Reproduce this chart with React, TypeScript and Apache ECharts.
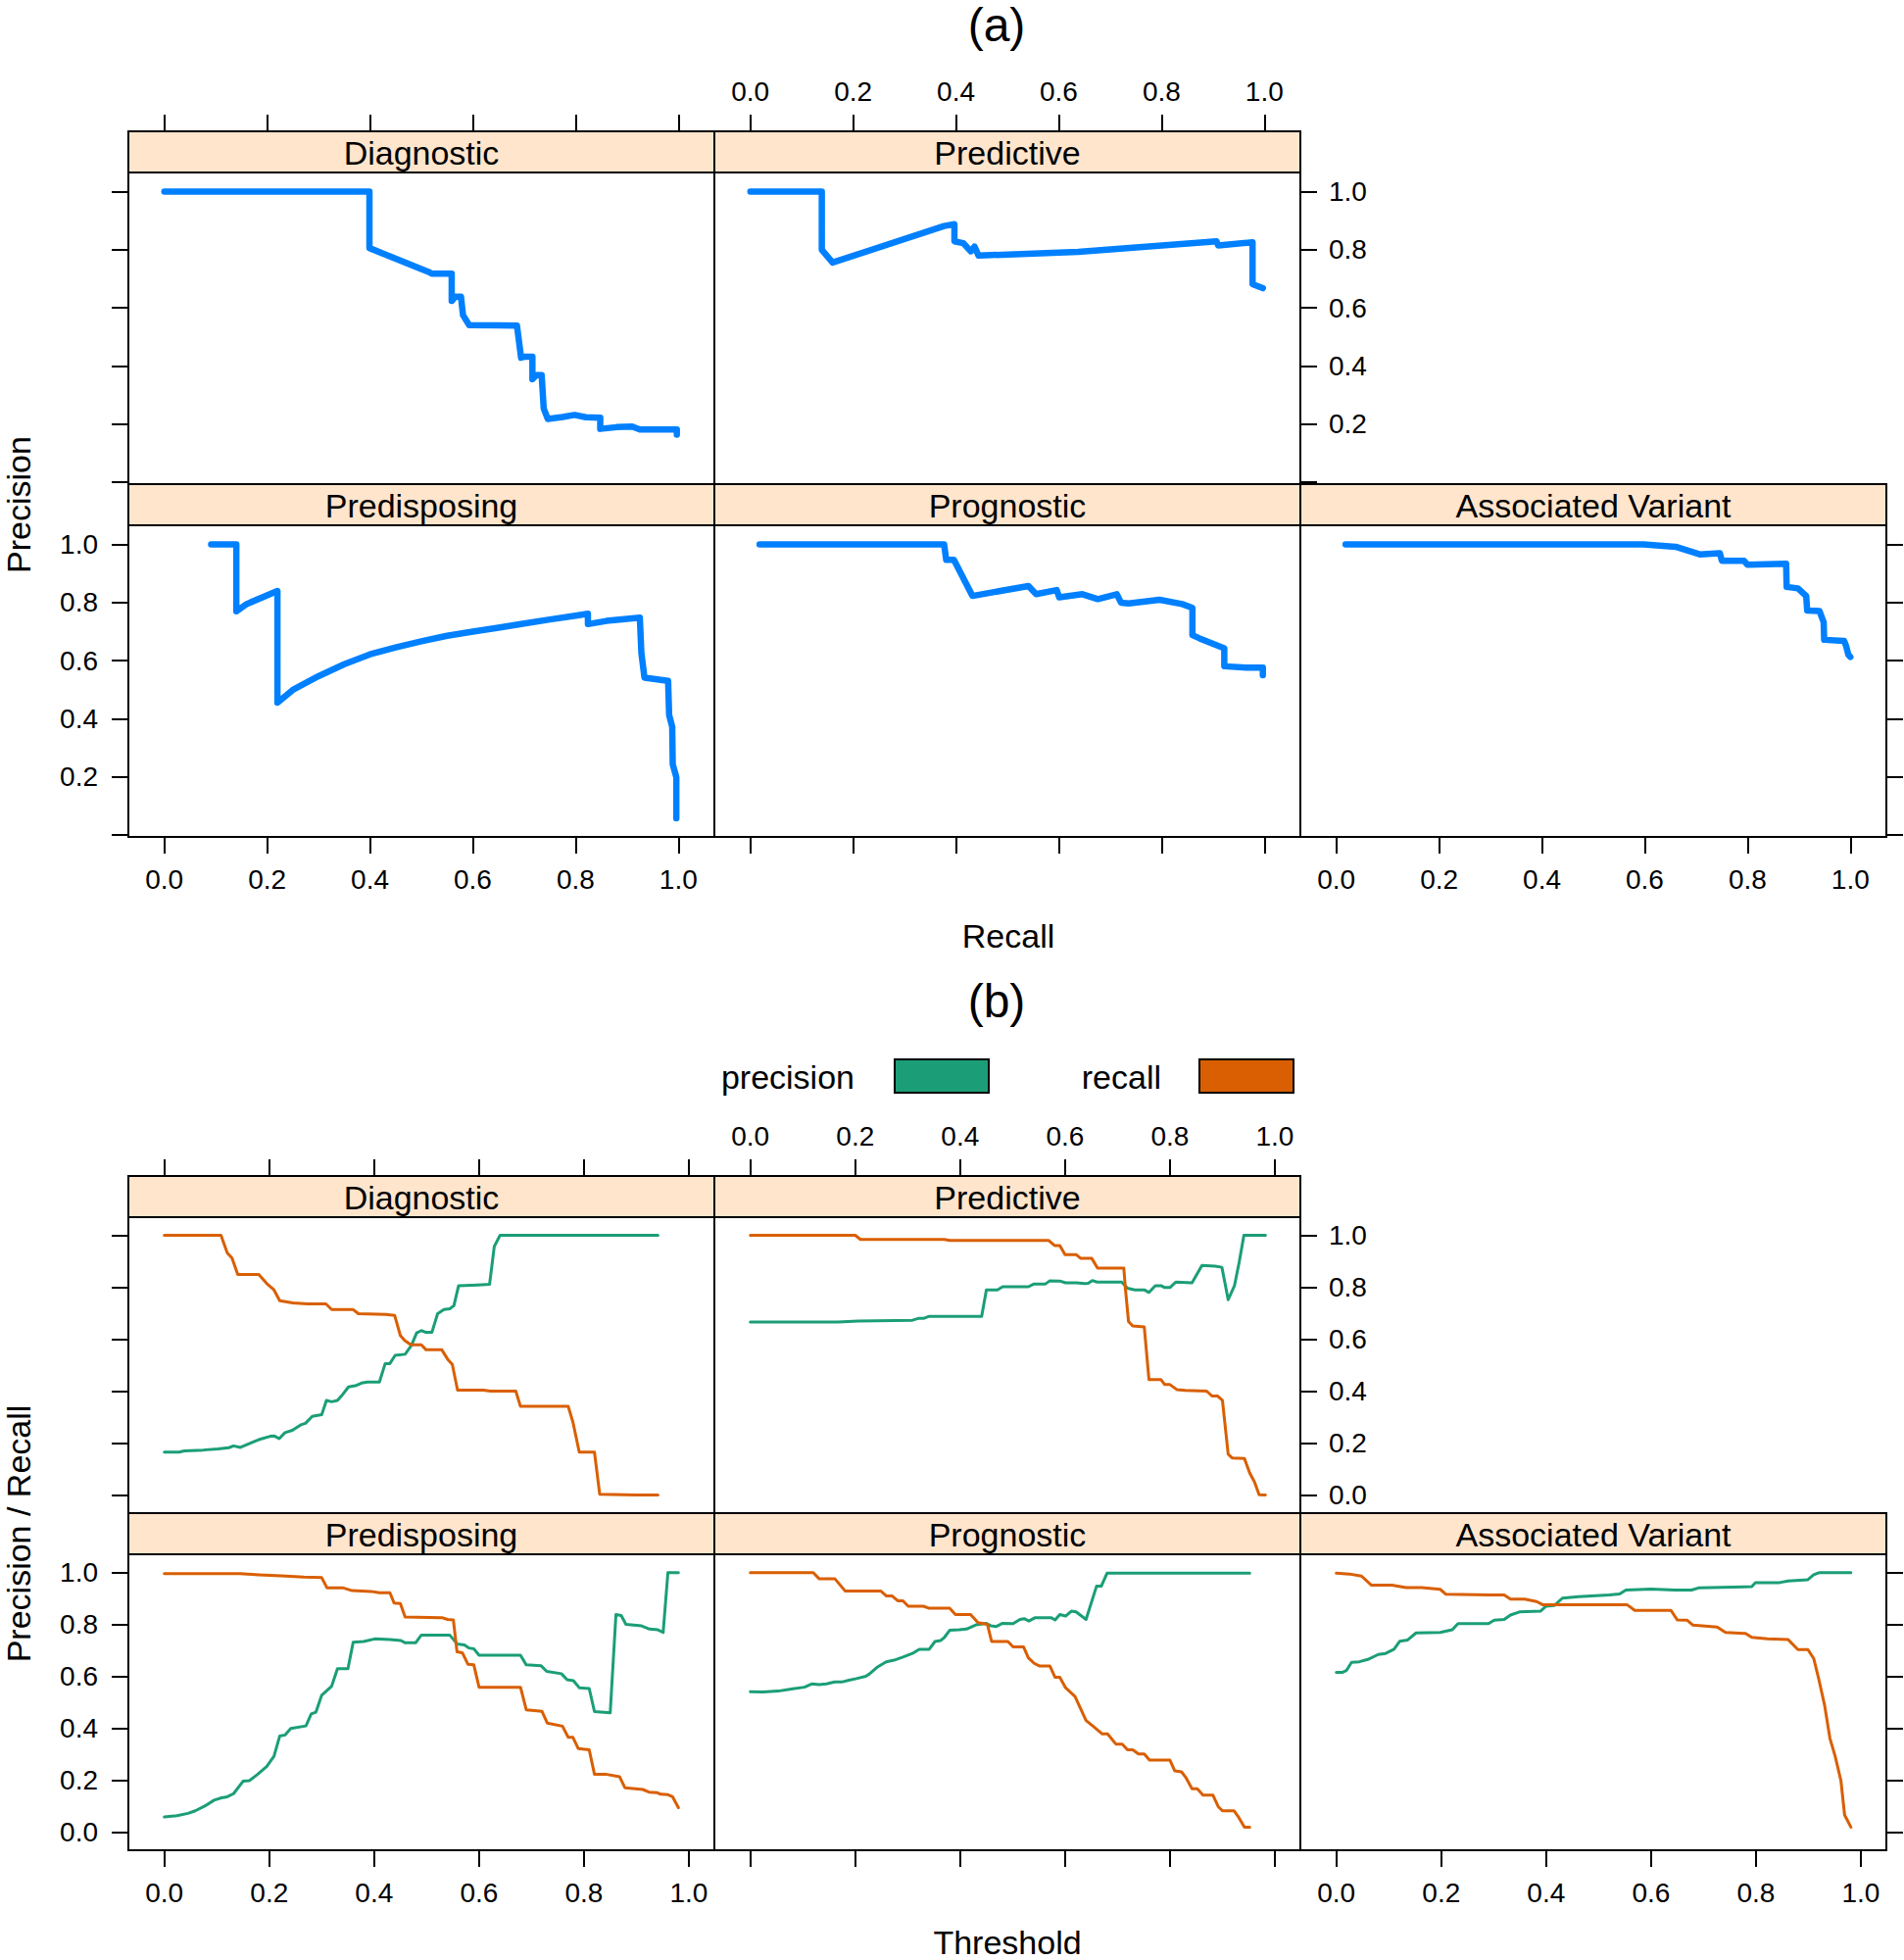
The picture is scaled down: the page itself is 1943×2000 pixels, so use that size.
import React, { useEffect, useRef } from "react";
import * as echarts from "echarts";

// ---------- data ----------
const panelNames = ["Diagnostic", "Predictive", "Predisposing", "Prognostic", "Associated Variant"];
const tickValues = [0, 0.2, 0.4, 0.6, 0.8, 1.0];
const yLabelValuesA = [0.2, 0.4, 0.6, 0.8, 1.0];
const legendNames = ["precision", "recall"];

// (a) precision-recall curves: [recall, precision]
const prDiagnostic = [[0, 1.0], [0.399, 1.0], [0.399, 0.806], [0.514, 0.724], [0.52, 0.718], [0.559, 0.718], [0.559, 0.624], [0.566, 0.639], [0.577, 0.639], [0.581, 0.575], [0.593, 0.541], [0.686, 0.539], [0.694, 0.429], [0.7, 0.432], [0.716, 0.432], [0.716, 0.355], [0.724, 0.369], [0.734, 0.369], [0.738, 0.254], [0.746, 0.218], [0.775, 0.225], [0.798, 0.232], [0.82, 0.224], [0.848, 0.222], [0.848, 0.184], [0.88, 0.19], [0.91, 0.192], [0.925, 0.182], [0.997, 0.182], [0.997, 0.164]];
const prPredictive = [[0, 1.0], [0.139, 1.0], [0.139, 0.8], [0.16, 0.756], [0.377, 0.882], [0.397, 0.888], [0.397, 0.829], [0.414, 0.823], [0.429, 0.795], [0.436, 0.811], [0.444, 0.78], [0.638, 0.793], [0.907, 0.829], [0.91, 0.815], [0.977, 0.826], [0.977, 0.682], [0.997, 0.668]];
const prPredisposing = [[0.091, 1.0], [0.14, 1.0], [0.14, 0.77], [0.16, 0.795], [0.22, 0.84], [0.22, 0.456], [0.25, 0.5], [0.3, 0.547], [0.35, 0.588], [0.4, 0.622], [0.45, 0.646], [0.5, 0.667], [0.55, 0.686], [0.6, 0.7], [0.65, 0.714], [0.7, 0.728], [0.75, 0.742], [0.8, 0.755], [0.824, 0.762], [0.824, 0.726], [0.86, 0.737], [0.925, 0.748], [0.928, 0.627], [0.934, 0.542], [0.98, 0.531], [0.982, 0.413], [0.988, 0.373], [0.989, 0.244], [0.996, 0.199], [0.996, 0.058]];
const prPrognostic = [[0.018, 1.0], [0.377, 1.0], [0.381, 0.947], [0.396, 0.947], [0.432, 0.823], [0.541, 0.857], [0.556, 0.829], [0.596, 0.843], [0.601, 0.818], [0.646, 0.829], [0.676, 0.812], [0.713, 0.829], [0.721, 0.8], [0.736, 0.797], [0.796, 0.81], [0.84, 0.795], [0.86, 0.782], [0.86, 0.688], [0.874, 0.677], [0.922, 0.643], [0.922, 0.581], [0.967, 0.576], [0.997, 0.576], [0.997, 0.55]];
const prAssociated = [[0.018, 1.0], [0.597, 1.0], [0.66, 0.992], [0.707, 0.966], [0.746, 0.97], [0.75, 0.944], [0.793, 0.944], [0.8, 0.93], [0.875, 0.934], [0.876, 0.854], [0.898, 0.849], [0.914, 0.823], [0.916, 0.773], [0.94, 0.771], [0.948, 0.733], [0.949, 0.672], [0.988, 0.668], [0.992, 0.649], [0.996, 0.621], [1.0, 0.613]];

// (b) precision / recall against threshold: [threshold, value]
const precDiagnostic = [[0, 0.165], [0.028, 0.165], [0.038, 0.17], [0.074, 0.173], [0.102, 0.177], [0.123, 0.182], [0.132, 0.189], [0.145, 0.183], [0.166, 0.201], [0.18, 0.213], [0.202, 0.226], [0.21, 0.227], [0.219, 0.217], [0.23, 0.24], [0.244, 0.249], [0.26, 0.27], [0.269, 0.276], [0.282, 0.303], [0.3, 0.309], [0.309, 0.364], [0.319, 0.359], [0.33, 0.364], [0.34, 0.387], [0.351, 0.416], [0.366, 0.422], [0.376, 0.431], [0.387, 0.435], [0.41, 0.435], [0.421, 0.506], [0.43, 0.506], [0.44, 0.538], [0.459, 0.542], [0.471, 0.576], [0.481, 0.624], [0.49, 0.633], [0.499, 0.626], [0.51, 0.626], [0.521, 0.698], [0.533, 0.714], [0.544, 0.717], [0.552, 0.729], [0.561, 0.806], [0.597, 0.809], [0.62, 0.811], [0.629, 0.957], [0.64, 1.0], [0.941, 1.0]];
const recDiagnostic = [[0, 1.0], [0.108, 1.0], [0.12, 0.932], [0.129, 0.912], [0.14, 0.849], [0.18, 0.849], [0.195, 0.815], [0.209, 0.79], [0.22, 0.748], [0.245, 0.74], [0.273, 0.736], [0.308, 0.736], [0.319, 0.714], [0.36, 0.714], [0.37, 0.698], [0.422, 0.695], [0.439, 0.692], [0.45, 0.614], [0.458, 0.595], [0.47, 0.578], [0.49, 0.578], [0.499, 0.559], [0.529, 0.559], [0.54, 0.523], [0.549, 0.503], [0.559, 0.404], [0.608, 0.404], [0.622, 0.4], [0.67, 0.4], [0.679, 0.341], [0.77, 0.341], [0.779, 0.28], [0.791, 0.165], [0.82, 0.165], [0.83, 0.003], [0.9, 0.0], [0.941, 0.0]];
const precPredictive = [[0, 0.666], [0.167, 0.666], [0.206, 0.67], [0.309, 0.673], [0.32, 0.68], [0.33, 0.68], [0.341, 0.688], [0.441, 0.688], [0.45, 0.79], [0.471, 0.79], [0.481, 0.802], [0.53, 0.802], [0.54, 0.812], [0.562, 0.812], [0.571, 0.825], [0.59, 0.824], [0.601, 0.817], [0.622, 0.817], [0.637, 0.814], [0.644, 0.815], [0.652, 0.826], [0.661, 0.82], [0.708, 0.82], [0.719, 0.796], [0.733, 0.79], [0.751, 0.79], [0.76, 0.78], [0.772, 0.806], [0.783, 0.806], [0.79, 0.799], [0.8, 0.799], [0.811, 0.82], [0.842, 0.817], [0.861, 0.884], [0.886, 0.881], [0.899, 0.877], [0.911, 0.752], [0.923, 0.806], [0.932, 0.897], [0.941, 1.0], [0.982, 1.0]];
const recPredictive = [[0, 1.0], [0.2, 1.0], [0.21, 0.984], [0.37, 0.984], [0.38, 0.98], [0.569, 0.98], [0.58, 0.961], [0.59, 0.961], [0.6, 0.926], [0.621, 0.926], [0.63, 0.911], [0.651, 0.911], [0.662, 0.874], [0.712, 0.874], [0.715, 0.796], [0.721, 0.668], [0.729, 0.651], [0.751, 0.647], [0.76, 0.444], [0.783, 0.444], [0.79, 0.425], [0.8, 0.425], [0.813, 0.406], [0.829, 0.403], [0.87, 0.4], [0.88, 0.381], [0.891, 0.381], [0.9, 0.365], [0.911, 0.157], [0.919, 0.142], [0.942, 0.14], [0.952, 0.085], [0.961, 0.051], [0.97, 0.001], [0.982, 0.0]];
const precPredisposing = [[0, 0.058], [0.024, 0.063], [0.045, 0.072], [0.059, 0.082], [0.077, 0.1], [0.095, 0.123], [0.109, 0.132], [0.12, 0.136], [0.132, 0.148], [0.15, 0.196], [0.162, 0.198], [0.177, 0.221], [0.195, 0.252], [0.209, 0.292], [0.22, 0.37], [0.23, 0.374], [0.241, 0.399], [0.27, 0.409], [0.28, 0.455], [0.289, 0.462], [0.3, 0.527], [0.319, 0.562], [0.33, 0.629], [0.35, 0.629], [0.36, 0.731], [0.38, 0.734], [0.401, 0.744], [0.43, 0.742], [0.451, 0.738], [0.459, 0.729], [0.479, 0.729], [0.49, 0.759], [0.544, 0.759], [0.558, 0.725], [0.572, 0.721], [0.581, 0.709], [0.59, 0.706], [0.6, 0.681], [0.679, 0.681], [0.69, 0.644], [0.718, 0.641], [0.729, 0.619], [0.757, 0.61], [0.768, 0.587], [0.78, 0.583], [0.791, 0.556], [0.81, 0.553], [0.82, 0.464], [0.85, 0.459], [0.861, 0.838], [0.871, 0.834], [0.88, 0.8], [0.91, 0.794], [0.925, 0.782], [0.941, 0.779], [0.951, 0.769], [0.96, 0.999], [0.98, 0.999]];
const recPredisposing = [[0, 0.995], [0.145, 0.995], [0.18, 0.991], [0.223, 0.987], [0.266, 0.982], [0.3, 0.98], [0.31, 0.941], [0.34, 0.941], [0.358, 0.93], [0.394, 0.927], [0.41, 0.922], [0.43, 0.922], [0.438, 0.882], [0.45, 0.88], [0.459, 0.828], [0.529, 0.826], [0.54, 0.819], [0.551, 0.817], [0.558, 0.694], [0.568, 0.691], [0.579, 0.646], [0.59, 0.644], [0.6, 0.558], [0.679, 0.558], [0.69, 0.471], [0.72, 0.465], [0.73, 0.42], [0.759, 0.408], [0.77, 0.365], [0.779, 0.365], [0.789, 0.322], [0.81, 0.317], [0.82, 0.223], [0.841, 0.223], [0.868, 0.213], [0.878, 0.171], [0.912, 0.164], [0.924, 0.154], [0.939, 0.152], [0.946, 0.146], [0.96, 0.144], [0.969, 0.136], [0.98, 0.094]];
const precPrognostic = [[0, 0.541], [0.024, 0.54], [0.053, 0.543], [0.081, 0.552], [0.103, 0.558], [0.118, 0.571], [0.131, 0.568], [0.145, 0.571], [0.161, 0.578], [0.174, 0.578], [0.188, 0.585], [0.202, 0.591], [0.22, 0.6], [0.227, 0.609], [0.241, 0.634], [0.259, 0.656], [0.274, 0.662], [0.291, 0.674], [0.309, 0.688], [0.322, 0.704], [0.341, 0.704], [0.352, 0.734], [0.363, 0.738], [0.37, 0.75], [0.38, 0.777], [0.398, 0.779], [0.412, 0.782], [0.43, 0.798], [0.45, 0.804], [0.459, 0.794], [0.469, 0.792], [0.481, 0.804], [0.501, 0.803], [0.514, 0.819], [0.522, 0.822], [0.531, 0.813], [0.543, 0.826], [0.573, 0.826], [0.581, 0.817], [0.59, 0.838], [0.601, 0.832], [0.612, 0.851], [0.621, 0.848], [0.64, 0.819], [0.66, 0.947], [0.669, 0.947], [0.68, 0.997], [0.952, 0.997]];
const recPrognostic = [[0, 0.999], [0.12, 0.999], [0.131, 0.976], [0.161, 0.976], [0.181, 0.928], [0.249, 0.928], [0.259, 0.91], [0.27, 0.91], [0.281, 0.891], [0.291, 0.891], [0.301, 0.87], [0.33, 0.87], [0.341, 0.862], [0.38, 0.862], [0.391, 0.838], [0.42, 0.838], [0.434, 0.807], [0.452, 0.8], [0.46, 0.734], [0.491, 0.734], [0.501, 0.713], [0.521, 0.713], [0.53, 0.671], [0.541, 0.65], [0.551, 0.64], [0.571, 0.64], [0.581, 0.596], [0.59, 0.596], [0.601, 0.556], [0.619, 0.522], [0.64, 0.43], [0.655, 0.405], [0.671, 0.378], [0.681, 0.378], [0.697, 0.339], [0.709, 0.339], [0.719, 0.317], [0.729, 0.317], [0.74, 0.301], [0.751, 0.301], [0.761, 0.277], [0.8, 0.277], [0.809, 0.236], [0.822, 0.232], [0.83, 0.211], [0.842, 0.167], [0.852, 0.167], [0.863, 0.142], [0.882, 0.142], [0.892, 0.098], [0.9, 0.082], [0.922, 0.082], [0.93, 0.06], [0.942, 0.019], [0.952, 0.019]];
const precAssociated = [[0, 0.615], [0.011, 0.615], [0.019, 0.622], [0.029, 0.654], [0.044, 0.656], [0.06, 0.665], [0.08, 0.684], [0.094, 0.688], [0.11, 0.704], [0.121, 0.735], [0.136, 0.74], [0.152, 0.767], [0.198, 0.769], [0.221, 0.779], [0.232, 0.803], [0.29, 0.803], [0.301, 0.816], [0.32, 0.819], [0.332, 0.836], [0.349, 0.848], [0.389, 0.851], [0.4, 0.87], [0.416, 0.873], [0.431, 0.901], [0.462, 0.907], [0.52, 0.913], [0.54, 0.917], [0.552, 0.932], [0.6, 0.936], [0.646, 0.932], [0.677, 0.932], [0.692, 0.941], [0.792, 0.945], [0.799, 0.961], [0.845, 0.961], [0.861, 0.967], [0.899, 0.972], [0.91, 0.991], [0.92, 0.999], [0.981, 0.999]];
const recAssociated = [[0, 0.997], [0.025, 0.994], [0.048, 0.986], [0.067, 0.951], [0.106, 0.951], [0.133, 0.942], [0.163, 0.942], [0.198, 0.935], [0.209, 0.916], [0.293, 0.913], [0.32, 0.913], [0.332, 0.897], [0.359, 0.897], [0.382, 0.888], [0.393, 0.876], [0.416, 0.876], [0.554, 0.876], [0.569, 0.854], [0.638, 0.854], [0.65, 0.817], [0.669, 0.816], [0.68, 0.797], [0.726, 0.79], [0.742, 0.769], [0.78, 0.765], [0.792, 0.75], [0.822, 0.744], [0.861, 0.742], [0.88, 0.703], [0.899, 0.703], [0.91, 0.669], [0.92, 0.587], [0.931, 0.487], [0.941, 0.361], [0.951, 0.292], [0.962, 0.198], [0.969, 0.066], [0.981, 0.019]];

const prCurves = [prDiagnostic, prPredictive, prPredisposing, prPrognostic, prAssociated];
const precCurves = [precDiagnostic, precPredictive, precPredisposing, precPrognostic, precAssociated];
const recCurves = [recDiagnostic, recPredictive, recPredisposing, recPrognostic, recAssociated];

// ---------- styling / layout ----------
const FONT = '"Liberation Sans", Arial, Helvetica, sans-serif';
const BLUE = "#0080ff";
const GREEN = "#1b9e77";
const ORANGE = "#d95f02";
const STRIP_BG = "#ffe5cc";
const W = 598;
const STRIP = 42;
const COLS = [131, 729, 1327];
const PANEL_POS = [[0, 0], [0, 1], [1, 0], [1, 1], [1, 2]];
const topTicks = [true, true, false, false, false];
const topLabels = [false, true, false, false, false];
const bottomTicks = [false, false, true, true, true];
const bottomLabels = [false, false, true, false, true];
const leftTicks = [true, false, true, false, false];
const leftLabels = [false, false, true, false, false];
const rightTicks = [false, true, false, false, true];
const rightLabels = [false, true, false, false, false];

function buildOption() {
  const grids: any[] = [];
  const xAxes: any[] = [];
  const yAxes: any[] = [];
  const series: any[] = [];
  const graphics: any[] = [];

  const tick = (show: boolean) => ({
    show,
    length: 17,
    inside: false,
    customValues: tickValues,
    lineStyle: { color: "#000", width: 2 },
  });
  const label = (show: boolean, vals: number[], margin: number) => ({
    show,
    customValues: vals,
    formatter: (v: any) => Number(v).toFixed(1),
    fontSize: 28,
    fontFamily: FONT,
    color: "#000",
    margin,
  });

  const addFigure = (cfg: any) => {
    panelNames.forEach((name, i) => {
      const [row, col] = PANEL_POS[i];
      const left = COLS[col];
      const stripTop = cfg.stripTops[row];
      const top = stripTop + STRIP;
      const g = grids.length;
      grids.push({
        left, top, width: W, height: cfg.panelH,
        show: true, borderColor: "#000", borderWidth: 2, backgroundColor: "#fff",
      });
      const noLine = { show: false, onZero: false };
      const xBase = { type: "value", gridIndex: g, min: cfg.xMin, max: cfg.xMax, splitLine: { show: false }, axisLine: noLine };
      xAxes.push({ ...xBase, position: "bottom", axisTick: tick(bottomTicks[i]), axisLabel: label(bottomLabels[i], tickValues, 29) });
      xAxes.push({ ...xBase, position: "top", offset: STRIP, axisTick: tick(topTicks[i]), axisLabel: label(topLabels[i], tickValues, 27) });
      const yBase = { type: "value", gridIndex: g, min: cfg.yMin, max: cfg.yMax, splitLine: { show: false }, axisLine: noLine };
      yAxes.push({ ...yBase, position: "left", axisTick: tick(leftTicks[i]), axisLabel: label(leftLabels[i], cfg.yLabelVals, 31) });
      yAxes.push({ ...yBase, position: "right", axisTick: tick(rightTicks[i]), axisLabel: label(rightLabels[i], cfg.yLabelVals, 29) });

      cfg.lines(i).forEach((ln: any) => {
        series.push({
          type: "line",
          name: ln.name,
          xAxisIndex: 2 * g,
          yAxisIndex: 2 * g,
          data: ln.data,
          showSymbol: false,
          symbol: "none",
          silent: true,
          lineStyle: { color: ln.color, width: ln.width, cap: "round", join: "round" },
          itemStyle: { color: ln.color },
          z: 3,
        });
      });

      graphics.push({
        type: "rect",
        shape: { x: left, y: stripTop, width: W, height: STRIP },
        style: { fill: STRIP_BG, stroke: "#000", lineWidth: 2 },
        z: 1,
      });
      graphics.push({
        type: "text",
        x: left + W / 2,
        y: stripTop + STRIP / 2 + 1,
        style: { text: name, fontSize: 34, fontFamily: FONT, fill: "#000", align: "center", verticalAlign: "middle" },
        z: 2,
      });
    });
  };

  addFigure({
    stripTops: [134, 494], panelH: 318,
    xMin: -0.07, xMax: 1.07, yMin: -0.006, yMax: 1.066,
    yLabelVals: yLabelValuesA,
    lines: (i: number) => [{ name: panelNames[i], data: prCurves[i], color: BLUE, width: 6.5 }],
  });
  addFigure({
    stripTops: [1200, 1544], panelH: 302,
    xMin: -0.0686, xMax: 1.0486, yMin: -0.07, yMax: 1.07,
    yLabelVals: tickValues,
    lines: (i: number) => [
      { name: legendNames[0], data: precCurves[i], color: GREEN, width: 3 },
      { name: legendNames[1], data: recCurves[i], color: ORANGE, width: 3 },
    ],
  });

  const txt = (text: string, x: number, y: number, size: number, rotation = 0, align = "center") => ({
    type: "text", x, y, rotation,
    style: { text, fontSize: size, fontFamily: FONT, fill: "#000", align, verticalAlign: "middle" },
    z: 5,
  });
  graphics.push(txt("(a)", 1017, 25, 48));
  graphics.push(txt("(b)", 1017, 1021, 48));
  graphics.push(txt("Recall", 1029, 955, 34));
  graphics.push(txt("Threshold", 1028, 1982, 34));
  graphics.push(txt("Precision", 19, 515, 34, Math.PI / 2));
  graphics.push(txt("Precision / Recall", 19, 1565, 34, Math.PI / 2));

  // legend of (b)
  graphics.push(txt(legendNames[0], 872, 1099, 34, 0, "right"));
  graphics.push({ type: "rect", shape: { x: 913, y: 1081, width: 96, height: 34 }, style: { fill: GREEN, stroke: "#000", lineWidth: 2 }, z: 5 });
  graphics.push(txt(legendNames[1], 1185, 1099, 34, 0, "right"));
  graphics.push({ type: "rect", shape: { x: 1224, y: 1081, width: 96, height: 34 }, style: { fill: ORANGE, stroke: "#000", lineWidth: 2 }, z: 5 });

  return {
    animation: false,
    backgroundColor: "#fff",
    textStyle: { fontFamily: FONT },
    grid: grids,
    xAxis: xAxes,
    yAxis: yAxes,
    series,
    graphic: graphics,
  };
}

export default function App() {
  const ref = useRef<HTMLDivElement>(null);
  useEffect(() => {
    if (!ref.current) return;
    const chart = echarts.init(ref.current, null, { renderer: "svg" });
    chart.setOption(buildOption() as any);
    return () => chart.dispose();
  }, []);
  return (
    <div
      ref={ref}
      style={{ position: "absolute", left: 0, top: 0, width: 1943, height: 2000, background: "#fff" }}
    />
  );
}
